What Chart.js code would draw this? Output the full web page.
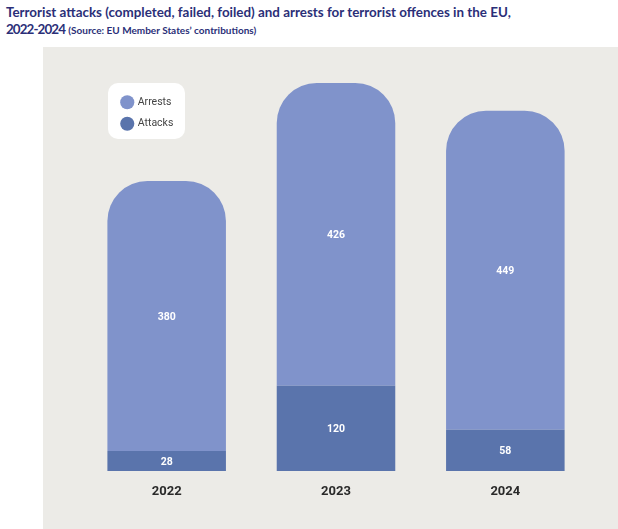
<!DOCTYPE html>
<html>
<head>
<meta charset="utf-8">
<script src="https://cdn.jsdelivr.net/npm/chart.js@4"></script>
<style>
    html, body { margin: 0; padding: 0; background: #fff; width: 618px; height: 529px; overflow: hidden; }
    #title { position: absolute; left: 6px; top: 4px; width: 600px; color: #2b2f78; font: bold 13.4px/17px Lato, "Noto Sans", sans-serif; }
    #title span { letter-spacing: -0.9px; }
    #title small { font-size: 10px; }
    #wrap { position: absolute; left: 43px; top: 47px; width: 575px; height: 482px; }
</style>
</head>
<body>
<div id="title">Terrorist attacks (completed, failed, foiled) and arrests for terrorist offences in the EU,<br><span>2022-2024</span> <small>(Source: EU Member States’ contributions)</small></div>
<div id="wrap"><canvas id="chart"></canvas></div>
<script>
const years = ['2022', '2023', '2024'];
const attacks = [28, 120, 58];
const arrests = [380, 426, 449];

const COLOR_ARRESTS = '#8093cb';
const COLOR_ATTACKS = '#5a74ac';

// panel background, plus the white card behind the legend
const panelPlugin = {
    id: 'panel',
    beforeDraw(chart) {
        const { ctx, width, height } = chart;
        ctx.save();
        ctx.fillStyle = '#ecebe7';
        ctx.fillRect(0, 0, width, height);
        ctx.fillStyle = '#fff';
        ctx.beginPath();
        ctx.roundRect(65, 36, 77, 56, 10);
        ctx.fill();
        ctx.restore();
    }
};

// legend goes inside the plot at a fixed spot
const legendSpotPlugin = {
    id: 'legendSpot',
    afterLayout(chart) {
        const l = chart.legend;
        const w = l.width, h = l.height;
        l.left = 68; l.top = 39;
        l.right = l.left + w; l.bottom = l.top + h;
    }
};

const valueLabelPlugin = {
    id: 'valueLabels',
    afterDatasetsDraw(chart) {
        const { ctx } = chart;
        ctx.save();
        ctx.fillStyle = '#fff';
        ctx.font = 'bold 10.5px Roboto, sans-serif';
        ctx.textAlign = 'center';
        ctx.textBaseline = 'middle';
        chart.data.datasets.forEach((ds, i) => {
            chart.getDatasetMeta(i).data.forEach((bar, j) => {
                ctx.fillText(ds.data[j], bar.x, (bar.y + bar.base) / 2 + 1);
            });
        });
        ctx.restore();
    }
};

new Chart(document.getElementById('chart'), {
    type: 'bar',
    data: {
        labels: years,
        datasets: [
            { label: 'Attacks', data: attacks, backgroundColor: COLOR_ATTACKS, borderSkipped: false },
            { label: 'Arrests', data: arrests, backgroundColor: COLOR_ARRESTS, borderRadius: { topLeft: 40, topRight: 40, bottomLeft: 0, bottomRight: 0 }, borderSkipped: false }
        ]
    },
    plugins: [panelPlugin, legendSpotPlugin, valueLabelPlugin],
    options: {
        responsive: true,
        maintainAspectRatio: false,
        animation: false,
        layout: { padding: { top: 36, left: 39, right: 28, bottom: 0 } },
        datasets: { bar: { barPercentage: 0.7, categoryPercentage: 1 } },
        plugins: {
            tooltip: { enabled: false },
            legend: {
                position: 'chartArea',
                align: 'start',
                reverse: true,
                labels: {
                    usePointStyle: true,
                    boxHeight: 10,
                    padding: 11,
                    color: '#444',
                    font: { family: 'Roboto, sans-serif', size: 10.5 }
                }
            }
        },
        scales: {
            x: {
                stacked: true,
                grid: { display: false },
                border: { display: false },
                afterFit: s => { s.height = 58; },
                ticks: { color: '#2a2a2a', padding: 5, maxRotation: 0, font: { family: 'Roboto, sans-serif', size: 13, weight: 'bold' } }
            },
            y: {
                stacked: true,
                display: false,
                min: 0,
                max: 546
            }
        }
    }
});
</script>
</body>
</html>
